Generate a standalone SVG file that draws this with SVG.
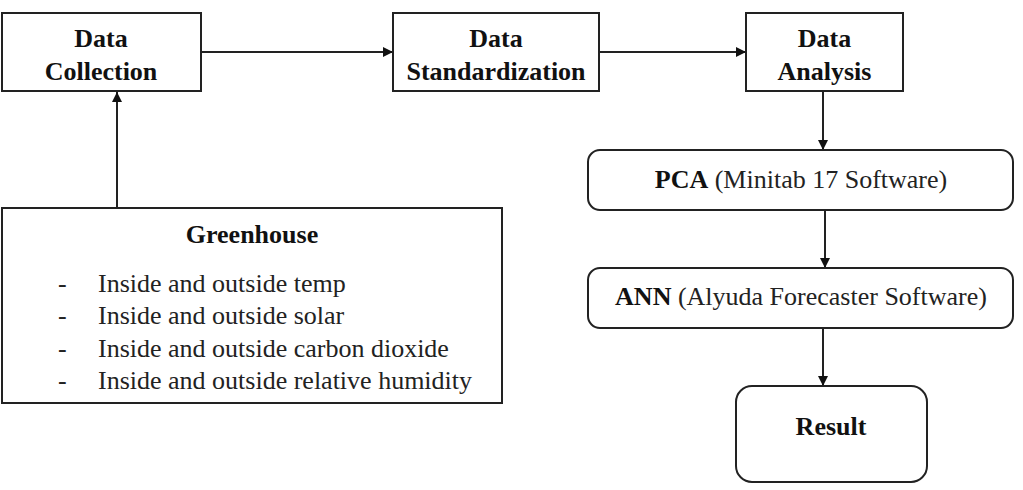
<svg xmlns="http://www.w3.org/2000/svg" width="1023" height="490" viewBox="0 0 1023 490">
<style>
.box{fill:#fff;stroke:#222;stroke-width:2}
.b{font-family:"Liberation Serif","Times New Roman",serif;font-weight:bold;font-size:26px;fill:#111}
.r{font-family:"Liberation Serif","Times New Roman",serif;font-size:26px;fill:#222}
.c{stroke:#222;stroke-width:2;fill:none}
</style>
<defs>
<marker id="ah" viewBox="0 0 10 10" refX="10" refY="5" markerWidth="10" markerHeight="10" markerUnits="userSpaceOnUse" orient="auto">
<path d="M0,0 L10,5 L0,10 Z" fill="#111"/>
</marker>
</defs>
<rect width="1023" height="490" fill="#fff"/>
<g id="connectors">
<line class="c" x1="201" y1="52" x2="393" y2="52" marker-end="url(#ah)"/>
<line class="c" x1="599" y1="52" x2="746" y2="52" marker-end="url(#ah)"/>
<line class="c" x1="117" y1="208" x2="117" y2="92" marker-end="url(#ah)"/>
<line class="c" x1="823" y1="91" x2="823" y2="150" marker-end="url(#ah)"/>
<line class="c" x1="825" y1="210" x2="825" y2="268" marker-end="url(#ah)"/>
<line class="c" x1="823" y1="328" x2="823" y2="386" marker-end="url(#ah)"/>
</g>
<g id="data-collection">
<rect class="box" x="2" y="13" width="199" height="78"/>
<text class="b" x="101" y="47" text-anchor="middle">Data</text>
<text class="b" x="101" y="80" text-anchor="middle">Collection</text>
</g>
<g id="data-standardization">
<rect class="box" x="393" y="13" width="206" height="78"/>
<text class="b" x="496" y="47" text-anchor="middle">Data</text>
<text class="b" x="496" y="80" text-anchor="middle">Standardization</text>
</g>
<g id="data-analysis">
<rect class="box" x="746" y="13" width="157" height="78"/>
<text class="b" x="824.5" y="47" text-anchor="middle">Data</text>
<text class="b" x="824.5" y="80" text-anchor="middle">Analysis</text>
</g>
<g id="greenhouse">
<rect class="box" x="2" y="208" width="500" height="195"/>
<text class="b" x="252" y="243" text-anchor="middle">Greenhouse</text>
<text class="r" x="58" y="292">-</text>
<text class="r" x="98" y="292">Inside and outside temp</text>
<text class="r" x="58" y="324">-</text>
<text class="r" x="98" y="324">Inside and outside solar</text>
<text class="r" x="58" y="357">-</text>
<text class="r" x="98" y="357">Inside and outside carbon dioxide</text>
<text class="r" x="58" y="389">-</text>
<text class="r" x="98" y="389">Inside and outside relative humidity</text>
</g>
<g id="pca">
<rect class="box" x="588" y="150" width="425" height="60" rx="12" ry="12"/>
<text class="r" x="801" y="188" text-anchor="middle"><tspan font-weight="bold" fill="#111">PCA</tspan> (Minitab 17 Software)</text>
</g>
<g id="ann">
<rect class="box" x="588" y="268" width="425" height="60" rx="12" ry="12"/>
<text class="r" x="801" y="305" text-anchor="middle"><tspan font-weight="bold" fill="#111">ANN</tspan> (Alyuda Forecaster Software)</text>
</g>
<g id="result">
<rect class="box" x="736" y="386" width="191" height="96" rx="16" ry="16"/>
<text class="b" x="831" y="435" text-anchor="middle">Result</text>
</g>
</svg>
